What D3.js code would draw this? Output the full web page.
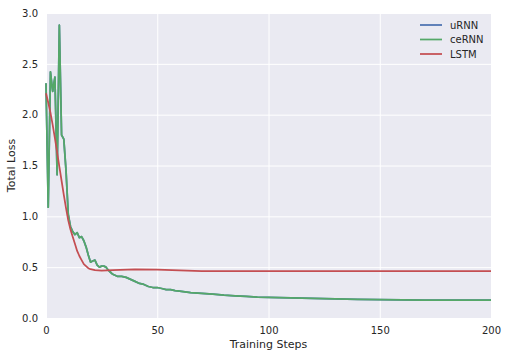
<!DOCTYPE html>
<meta charset="utf-8">
<html lang="en">
<head>
    <title>Total Loss</title>
    <script src="https://cdn.jsdelivr.net/npm/d3@7"></script>
</head>
<style>
    body { margin: 0; background: #fff; }
    text { font-family: "DejaVu Sans", sans-serif; fill: #262626; }
    .tick text { font-size: 10px; }
    .grid line { stroke: #fff; stroke-width: 1px; }
    .series { fill: none; stroke-width: 1.75px; stroke-linejoin: round; }
</style>
<body>
<script>
    // values (step -> loss)
    var rnnSteps = [0, 1, 2, 3, 4, 5, 6, 7, 8, 9, 10, 11, 12, 13, 14, 15, 16, 17, 18, 19, 20,
        21, 22, 23, 24, 25, 26, 27, 28, 29, 30, 32, 34, 36, 38, 40, 42, 44, 46, 48, 50,
        52, 54, 56, 58, 60, 65, 70, 75, 80, 85, 90, 95, 100, 110, 120, 130, 140, 150,
        160, 170, 180, 190, 200];
    var ceRNN = [2.31, 1.09, 2.42, 2.23, 2.37, 1.41, 2.88, 1.80, 1.76, 1.45, 1.02, 0.90, 0.85,
        0.82, 0.84, 0.79, 0.80, 0.76, 0.70, 0.62, 0.55, 0.56, 0.57, 0.52, 0.50, 0.51, 0.51,
        0.50, 0.47, 0.45, 0.43, 0.41, 0.41, 0.40, 0.38, 0.36, 0.34, 0.33, 0.31, 0.30, 0.30,
        0.29, 0.28, 0.28, 0.27, 0.265, 0.25, 0.243, 0.235, 0.225, 0.218, 0.212, 0.206, 0.203,
        0.197, 0.193, 0.188, 0.183, 0.180, 0.178, 0.177, 0.176, 0.176, 0.176];
    var uRNN = ceRNN.slice();

    var lstmSteps = [0, 1, 2, 3, 4, 5, 6, 7, 8, 9, 10, 11, 12, 13, 14, 15, 16, 17, 18, 19, 20,
        22, 25, 30, 40, 50, 60, 70, 100, 150, 200];
    var LSTM = [2.21, 2.12, 2.02, 1.90, 1.77, 1.63, 1.49, 1.35, 1.21, 1.08, 0.96, 0.87, 0.80,
        0.73, 0.66, 0.61, 0.57, 0.53, 0.51, 0.49, 0.48, 0.47, 0.465, 0.47, 0.478, 0.475,
        0.468, 0.462, 0.46, 0.46, 0.46];

    var xTicks = [0, 50, 100, 150, 200];
    var yTicks = [0.0, 0.5, 1.0, 1.5, 2.0, 2.5, 3.0];

    var series = [
        {name: "uRNN", steps: rnnSteps, values: uRNN, color: "#4C72B0"},
        {name: "ceRNN", steps: rnnSteps, values: ceRNN, color: "#55A868"},
        {name: "LSTM", steps: lstmSteps, values: LSTM, color: "#C44E52"}
    ];

    var W = 508, H = 358;
    var m = {left: 46, right: 17, top: 13, bottom: 40};
    var w = W - m.left - m.right, h = H - m.top - m.bottom;

    var svg = d3.select("body").append("svg").attr("width", W).attr("height", H);
    var g = svg.append("g").attr("transform", "translate(" + m.left + "," + m.top + ")");

    var x = d3.scaleLinear().domain([0, 200]).range([0, w]);
    var y = d3.scaleLinear().domain([0, 3]).range([h, 0]);

    g.append("rect").attr("width", w).attr("height", h).attr("fill", "#EAEAF2");

    g.append("g").attr("class", "grid")
        .call(d3.axisBottom(x).tickValues(xTicks).tickSize(h).tickFormat(""))
        .call(a => a.select(".domain").remove());
    g.append("g").attr("class", "grid")
        .call(d3.axisRight(y).tickValues(yTicks).tickSize(w).tickFormat(""))
        .call(a => a.select(".domain").remove());

    g.append("g").attr("transform", "translate(0," + h + ")")
        .call(d3.axisBottom(x).tickValues(xTicks).tickSize(0).tickPadding(9).tickFormat(d3.format("d")))
        .call(a => a.select(".domain").remove());
    g.append("g")
        .call(d3.axisLeft(y).tickValues(yTicks).tickSize(0).tickPadding(8).tickFormat(d3.format(".1f")))
        .call(a => a.select(".domain").remove());

    var line = d3.line().x(d => x(d[0])).y(d => y(d[1]));

    g.selectAll(".series").data(series).enter().append("path")
        .attr("class", "series")
        .attr("stroke", d => d.color)
        .attr("d", d => line(d.steps.map((s, i) => [s, d.values[i]])));

    svg.append("text").attr("x", m.left + w / 2).attr("y", 348)
        .attr("text-anchor", "middle").style("font-size", "11px").text("Training Steps");
    svg.append("text").attr("transform", "translate(15," + (m.top + h / 2) + ") rotate(-90)")
        .attr("text-anchor", "middle").style("font-size", "11px").text("Total Loss");

    var leg = svg.append("g").attr("transform", "translate(420,25)");
    series.forEach(function (s, i) {
        var r = leg.append("g").attr("transform", "translate(0," + i * 14.5 + ")");
        r.append("line").attr("x1", 0).attr("x2", 22).attr("stroke", s.color).attr("stroke-width", 1.75);
        r.append("text").attr("x", 30).attr("y", 0).attr("dy", "0.35em")
            .style("font-size", "10px").text(s.name);
    });
</script>
</body>
</html>
